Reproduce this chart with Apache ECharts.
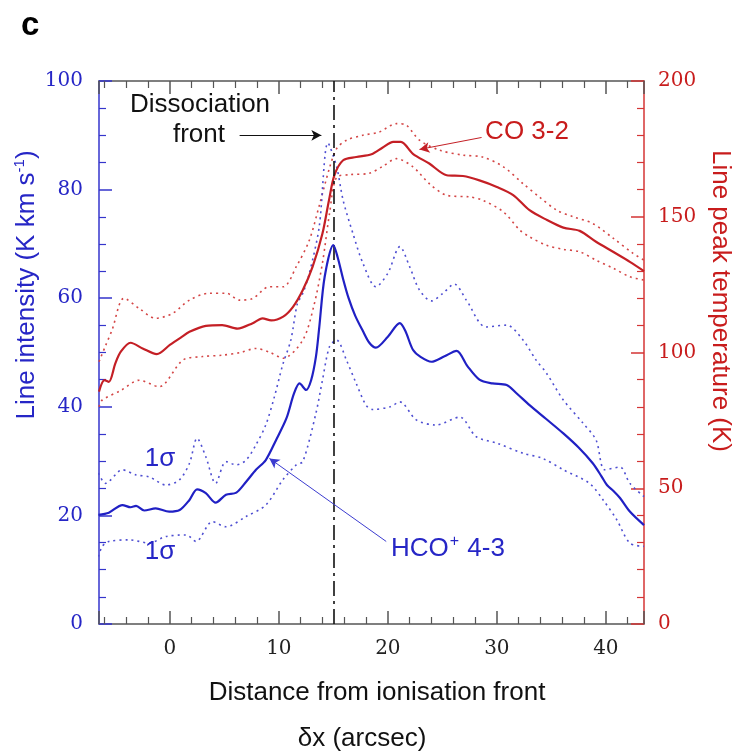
<!DOCTYPE html>
<html>
<head>
<meta charset="utf-8">
<script src="https://cdn.jsdelivr.net/npm/echarts@6/dist/echarts.min.js"></script>
<style>
  html, body { margin: 0; padding: 0; background: #fff; }
  #chart { width: 737px; height: 753px; }
</style>
</head>
<body>
<div id="chart"></div>
<script>
// ---- HCO+ 4-3 line intensity (K km s^-1) along the cut, with 1-sigma envelope ----
const hcoX = [-6.55, -5.6, -4.35, -3.6, -3.1, -2.35, -1.3, -0.06, 0.9, 1.8, 2.5, 3.3, 4.2, 5.15, 6.1, 7.0, 7.9, 8.8, 9.75, 10.7, 11.4, 11.9, 12.5, 12.96, 13.4, 13.7, 14.2, 15.0, 15.4, 15.9, 16.4, 17.0, 17.7, 18.3, 18.9, 20.0, 21.1, 21.6, 22.3, 23.0, 24.0, 25.2, 26.3, 27.3, 28.4, 29.6, 30.9, 31.8, 33.0, 34.5, 36.1, 37.5, 38.8, 39.6, 40.1, 40.7, 41.3, 42.2, 43.5];
const hcoY = [20.1, 20.5, 21.9, 21.5, 21.75, 20.9, 21.3, 20.7, 21.0, 22.85, 24.8, 24.1, 22.35, 23.8, 24.2, 26.2, 28.4, 30.2, 33.9, 37.9, 42.5, 44.3, 43.1, 44.9, 49.2, 54.5, 63.9, 69.8, 67.5, 63.5, 60.0, 56.8, 54.0, 51.8, 50.9, 52.9, 55.4, 54.0, 50.5, 49.2, 48.3, 49.3, 50.3, 47.5, 45.0, 44.3, 44.0, 42.5, 40.3, 37.8, 35.1, 32.5, 29.6, 27.2, 25.6, 24.5, 23.2, 20.7, 18.2];

const hcoUpX = [-6.55, -5.9, -4.35, -3.1, -1.9, -0.36, 0.86, 1.8, 2.5, 3.3, 4.2, 5.15, 6.1, 7.0, 7.9, 8.8, 9.6, 10.35, 11.1, 11.7, 12.2, 12.8, 13.7, 14.5, 15.3, 15.9, 16.8, 17.7, 18.9, 20.0, 21.1, 22.0, 22.9, 24.0, 25.05, 26.1, 27.2, 29.0, 30.9, 32.4, 33.6, 34.55, 36.1, 37.9, 39.1, 39.9, 41.3, 42.2, 43.5];
const hcoUpY = [27.8, 25.9, 28.4, 27.45, 27.1, 25.6, 26.5, 29.6, 34.2, 30.8, 25.9, 29.9, 29.3, 30.2, 33.0, 36.65, 41.9, 47.7, 52.3, 59.0, 60.9, 64.6, 73.1, 88.6, 84.2, 78.0, 71.9, 66.5, 62.1, 64.6, 69.5, 65.8, 61.5, 59.5, 60.9, 62.6, 59.65, 54.7, 55.05, 52.3, 48.6, 46.2, 41.25, 37.0, 33.9, 28.4, 28.9, 25.9, 23.45];

const hcoLoX = [-6.55, -6.2, -5.6, -3.7, -1.9, -0.4, 1.5, 2.4, 3.9, 5.15, 7.0, 8.8, 10.35, 11.6, 12.2, 13.4, 14.0, 14.65, 15.3, 16.2, 17.1, 18.0, 18.6, 20.2, 21.1, 22.6, 24.4, 26.6, 28.1, 30.0, 32.4, 34.2, 36.1, 38.5, 39.75, 41.0, 42.2, 43.5];
const hcoLoY = [12.4, 14.3, 15.2, 15.5, 14.9, 16.1, 16.4, 15.2, 18.85, 17.9, 19.8, 21.9, 26.5, 29.3, 29.9, 38.8, 44.9, 51.1, 52.3, 48.6, 44.3, 40.3, 39.5, 40.0, 40.9, 37.6, 36.65, 38.1, 34.5, 33.3, 31.45, 30.5, 28.4, 25.9, 22.85, 19.2, 14.9, 14.3];

// ---- CO 3-2 line peak temperature (K) along the cut, with 1-sigma envelope ----
const coX = [-6.5, -6.0, -5.6, -5.0, -4.5, -3.6, -2.5, -1.2, 0.0, 1.0, 1.8, 3.3, 4.8, 6.2, 7.6, 8.5, 9.3, 10.4, 11.3, 12.2, 13.1, 14.0, 14.6, 15.1, 15.9, 17.1, 18.5, 19.5, 20.5, 21.2, 22.3, 23.8, 25.4, 26.9, 28.4, 30.0, 31.5, 33.0, 34.6, 36.1, 37.6, 39.1, 40.7, 42.2, 43.5];
const coT = [85.6, 89.8, 89.2, 96.0, 100.3, 103.6, 101.5, 99.4, 102.8, 105.5, 107.6, 109.8, 110.1, 108.8, 110.8, 112.6, 111.8, 113.2, 116.8, 123.0, 131.6, 143.8, 156.1, 165.3, 170.8, 172.0, 173.0, 175.4, 177.6, 177.6, 173.2, 169.6, 165.3, 165.0, 163.4, 161.0, 158.0, 152.4, 148.8, 146.0, 144.8, 140.8, 137.0, 133.4, 130.0];

const coUpX = [-6.5, -5.9, -5.3, -4.2, -2.8, -1.3, 0.25, 1.8, 3.6, 5.2, 6.4, 7.6, 9.1, 10.4, 11.6, 12.8, 13.7, 14.65, 15.3, 16.2, 17.7, 19.2, 20.8, 21.7, 22.9, 24.75, 26.9, 28.7, 30.6, 32.4, 33.9, 35.5, 37.0, 38.8, 40.7, 42.5, 43.5];
const coUpT = [96.6, 102.5, 108.3, 120.0, 116.2, 112.6, 114.4, 119.3, 121.8, 121.8, 119.3, 119.9, 124.2, 124.2, 131.6, 141.4, 154.0, 168.0, 175.1, 178.2, 180.0, 181.2, 184.3, 183.7, 178.2, 174.5, 172.7, 172.0, 168.4, 162.2, 157.3, 152.4, 150.0, 147.5, 142.0, 136.5, 134.0];

const coLoX = [-6.5, -6.2, -4.5, -2.8, -1.0, 1.2, 3.0, 4.8, 6.5, 7.9, 9.2, 10.4, 12.2, 13.2, 14.0, 14.65, 15.3, 16.5, 18.3, 19.5, 20.8, 22.3, 23.8, 25.4, 27.5, 28.7, 30.6, 32.1, 33.0, 34.55, 36.1, 37.6, 39.1, 40.7, 42.2, 43.5];
const coLoT = [80.0, 82.5, 86.0, 89.8, 87.4, 97.2, 98.5, 99.0, 100.0, 101.5, 100.0, 97.9, 104.6, 117.0, 133.0, 151.2, 164.5, 165.5, 166.0, 168.5, 171.4, 168.4, 162.2, 157.9, 157.3, 156.1, 151.8, 145.1, 142.6, 139.5, 138.0, 137.1, 134.0, 131.0, 127.9, 126.7];

// position of the dissociation front (arcsec)
const frontX = 15;

// axis ranges
const xRange = [-6.5, 43.5];
const intensityRange = [0, 100];
const temperatureRange = [0, 200];

const BLUE = '#2020c4';
const BLUE_DOT = '#4f4fd2';
const BLUE_TEXT = '#2626c6';
const RED = '#c41f25';
const RED_DOT = '#d44646';
const RED_TEXT = '#c81c1c';
const AXIS_GREY = '#555555';
const SANS = '"Liberation Sans", Arial, Helvetica, sans-serif';
const SERIF = '"DejaVu Serif", serif';

const pairs = (xs, ys) => xs.map((x, i) => [x, ys[i]]);

function curve(name, xs, ys, color, yAxisIndex, dotted, z) {
  return {
    name, type: 'line', xAxisIndex: 0, yAxisIndex,
    data: pairs(xs, ys),
    showSymbol: false, symbol: 'none', smooth: 0.3, silent: true, z,
    lineStyle: { color, width: dotted ? 1.6 : 2.2, type: dotted ? [2, 4] : 'solid' }
  };
}

const chart = echarts.init(document.getElementById('chart'), null, { renderer: 'canvas' });

const xBase = {
  type: 'value', min: xRange[0], max: xRange[1], splitNumber: 5,
  axisLine: { show: true, onZero: false, lineStyle: { color: AXIS_GREY, width: 1.5 } },
  axisTick: { show: true, inside: true, length: 13, lineStyle: { color: AXIS_GREY, width: 1.5 } },
  minorTick: { show: true, splitNumber: 5, length: 7, lineStyle: { color: AXIS_GREY, width: 1.2 } },
  splitLine: { show: false }, minorSplitLine: { show: false }
};

const arrowLine = (color, data) => ({
  silent: true, animation: false, symbol: ['none', 'arrow'], symbolSize: [8, 10],
  label: { show: false },
  lineStyle: { color, width: 1, type: 'solid' },
  data
});

const option = {
  animation: false,
  backgroundColor: '#ffffff',
  grid: { left: 99, right: 93, top: 81, bottom: 129, containLabel: false, outerBoundsMode: 'none' },
  xAxis: [
    Object.assign({}, xBase, {
      position: 'bottom',
      axisLabel: {
        show: true, margin: 15, color: '#222', fontFamily: SERIF, fontSize: 20,
        formatter: v => (Math.abs(v % 10) < 1e-9 ? String(v) : '')
      }
    }),
    Object.assign({}, xBase, { position: 'top', axisLabel: { show: false } })
  ],
  yAxis: [
    {
      type: 'value', position: 'left', min: intensityRange[0], max: intensityRange[1], interval: 20,
      axisLine: { show: true, onZero: false, lineStyle: { color: '#3535cc', width: 1.5 } },
      axisTick: { show: true, inside: true, length: 13, lineStyle: { color: '#3535cc', width: 1.5 } },
      minorTick: { show: true, splitNumber: 4, length: 7, lineStyle: { color: '#3535cc', width: 1.2 } },
      axisLabel: { margin: 16, color: BLUE_TEXT, fontFamily: SERIF, fontSize: 20 },
      splitLine: { show: false }
    },
    {
      type: 'value', position: 'right', min: temperatureRange[0], max: temperatureRange[1], interval: 50,
      axisLine: { show: true, onZero: false, lineStyle: { color: '#d43535', width: 1.5 } },
      axisTick: { show: true, inside: true, length: 13, lineStyle: { color: '#d43535', width: 1.5 } },
      minorTick: { show: true, splitNumber: 5, length: 7, lineStyle: { color: '#d43535', width: 1.2 } },
      axisLabel: { margin: 14, color: RED_TEXT, fontFamily: SERIF, fontSize: 20 },
      splitLine: { show: false }
    }
  ],
  series: [
    curve('CO 3-2 +1σ', coUpX, coUpT, RED_DOT, 1, true, 2),
    curve('CO 3-2 -1σ', coLoX, coLoT, RED_DOT, 1, true, 2),
    Object.assign(curve('HCO+ 4-3 +1σ', hcoUpX, hcoUpY, BLUE_DOT, 0, true, 2), {
      // dash-dot marker of the dissociation front
      markLine: {
        silent: true, animation: false, symbol: 'none', label: { show: false },
        lineStyle: { color: '#111', width: 1.6, type: [15, 5, 3, 5] },
        data: [{ xAxis: frontX }]
      }
    }),
    curve('HCO+ 4-3 -1σ', hcoLoX, hcoLoY, BLUE_DOT, 0, true, 2),
    Object.assign(curve('CO 3-2', coX, coT, RED, 1, false, 4), {
      markLine: arrowLine(RED, [[{ coord: [28.6, 179.2] }, { coord: [22.9, 174.8] }]])
    }),
    Object.assign(curve('HCO+ 4-3', hcoX, hcoY, BLUE, 0, false, 5), {
      markLine: arrowLine('#3c3cd0', [
        [{ coord: [6.4, 90.0], lineStyle: { color: '#111' } }, { coord: [13.9, 90.0] }],
        [{ coord: [19.85, 15.2] }, { coord: [9.13, 30.5] }]
      ])
    })
  ],
  graphic: [
    { type: 'text', left: 21, top: 9, z: 10,
      style: { text: 'c', font: 'bold 33px ' + SANS, fill: '#000' } },
    { type: 'text', x: 200, y: 105, z: 10,
      style: { text: 'Dissociation', font: '26px ' + SANS, fill: '#111', align: 'center', verticalAlign: 'middle' } },
    { type: 'text', x: 199, y: 135, z: 10,
      style: { text: 'front', font: '26px ' + SANS, fill: '#111', align: 'center', verticalAlign: 'middle' } },
    { type: 'text', x: 527, y: 132, z: 10,
      style: { text: 'CO 3-2', font: '26px ' + SANS, fill: RED_TEXT, align: 'center', verticalAlign: 'middle' } },
    { type: 'text', x: 160, y: 459, z: 10,
      style: { text: '1σ', font: '26px ' + SANS, fill: BLUE_TEXT, align: 'center', verticalAlign: 'middle' } },
    { type: 'text', x: 160, y: 552, z: 10,
      style: { text: '1σ', font: '26px ' + SANS, fill: BLUE_TEXT, align: 'center', verticalAlign: 'middle' } },
    { type: 'text', x: 391, y: 549, z: 10,
      style: {
        text: '{a|HCO}{s|+}{a| 4-3}', align: 'left', verticalAlign: 'middle',
        rich: {
          a: { fontFamily: SANS, fontSize: 26, fill: BLUE_TEXT, lineHeight: 30 },
          s: { fontFamily: SANS, fontSize: 16, fill: BLUE_TEXT, lineHeight: 30, verticalAlign: 'top', padding: [0, 1, 8, 1] }
        }
      } },
    { type: 'text', x: 27, y: 285, rotation: Math.PI / 2, z: 10,
      style: {
        text: '{a|Line intensity (K km s}{s|-1}{a|)}', align: 'center', verticalAlign: 'middle',
        rich: {
          a: { fontFamily: SANS, fontSize: 26, fill: BLUE_TEXT, lineHeight: 30 },
          s: { fontFamily: SANS, fontSize: 15, fill: BLUE_TEXT, lineHeight: 30, verticalAlign: 'top', padding: [0, 0, 8, 0] }
        }
      } },
    { type: 'text', x: 720, y: 301, rotation: -Math.PI / 2, z: 10,
      style: { text: 'Line peak temperature (K)', font: '26px ' + SANS, fill: RED_TEXT, align: 'center', verticalAlign: 'middle' } },
    { type: 'text', x: 377, y: 693, z: 10,
      style: { text: 'Distance from ionisation front', font: '26px ' + SANS, fill: '#111', align: 'center', verticalAlign: 'middle' } },
    { type: 'text', x: 362, y: 739, z: 10,
      style: { text: 'δx (arcsec)', font: '26px ' + SANS, fill: '#111', align: 'center', verticalAlign: 'middle' } }
  ]
};

chart.setOption(option);
</script>
</body>
</html>
